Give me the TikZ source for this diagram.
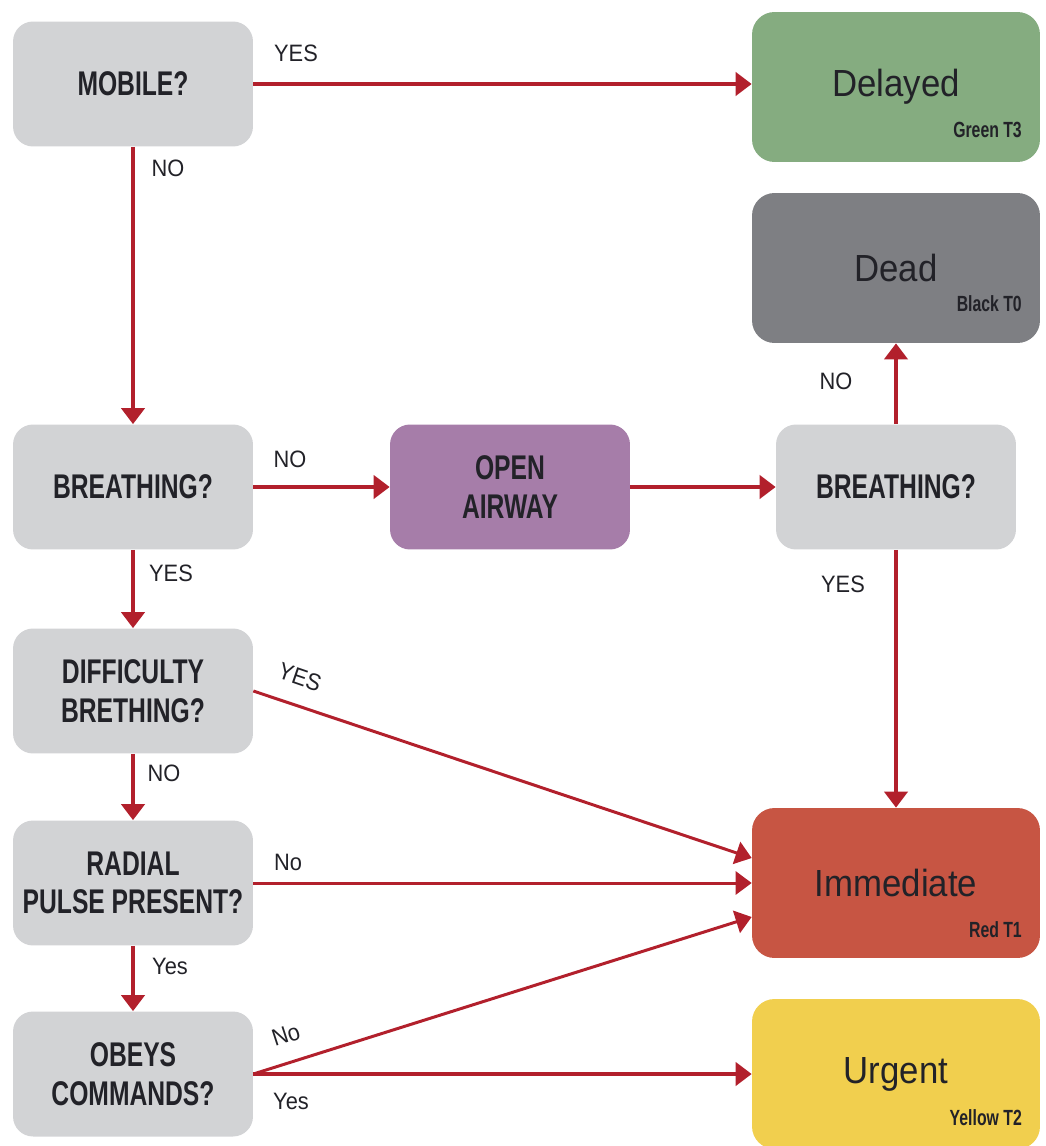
\documentclass[tikz,border=0pt]{standalone}
\usepackage{fontspec}
\setmainfont[FakeStretch=0.92]{Liberation Sans}
\newfontfamily\qfont[FakeStretch=0.72]{Liberation Sans}
\usetikzlibrary{arrows.meta}

\definecolor{ink}{HTML}{222228}
\definecolor{qgray}{HTML}{D2D3D5}
\definecolor{arrred}{HTML}{B2202C}
\definecolor{tgreen}{HTML}{85AC80}
\definecolor{tblack}{HTML}{7E7F83}
\definecolor{tred}{HTML}{C75543}
\definecolor{tyellow}{HTML}{F1CF4E}
\definecolor{tpurple}{HTML}{A67DA9}

\tikzset{
  qbox/.style={fill=qgray,rounded corners=0.4cm,minimum width=4.8cm,minimum height=2.5cm,
    align=center,text=ink,font=\qfont\bfseries\fontsize{19.5}{22}\selectfont},
  tbox/.style={rounded corners=0.45cm,minimum width=5.76cm,minimum height=3cm,
    text=ink,font=\fontsize{21.5}{25}\selectfont},
  ttag/.style={anchor=base east,text=ink,font=\qfont\bfseries\fontsize{12.5}{14}\selectfont},
  lbl/.style={text=ink,font=\fontsize{13.5}{16}\selectfont},
  arr/.style={draw=arrred,line width=2.3pt,-{Triangle[length=0.32cm,width=0.46cm]}},
  slant/.style={arr,line width=1.7pt}
}

\begin{document}
\begin{tikzpicture}[x=0.02cm,y=-0.02cm]

	\useasboundingbox (0,0) rectangle (1045,1146);

	% question column
	\node[qbox] (mobile) at (133,84) {MOBILE?};
	\node[qbox] (breathL) at (133,487) {BREATHING?};
	\node[qbox] (diff) at (133,691) {DIFFICULTY\\BRETHING?};
	\node[qbox] (radial) at (133,883) {RADIAL\\PULSE PRESENT?};
	\node[qbox] (obeys) at (133,1074) {OBEYS\\COMMANDS?};

	\node[qbox,fill=tpurple] (airway) at (510,487) {OPEN\\AIRWAY};
	\node[qbox] (breathR) at (896,487) {BREATHING?};

	% outcome boxes
	\node[tbox,fill=tgreen] (delayed) at (896,87) {Delayed};
	\node[tbox,fill=tblack] (dead) at (896,268) {Dead};
	\node[tbox,fill=tred] (immediate) at (896,883) {Immediate};
	\node[tbox,fill=tyellow] (urgent) at (896,1074) {Urgent};

	\node[ttag] (delayedTag) at (1028,137) {Green T3};
	\node[ttag] (deadTag) at (1028,311) {Black T0};
	\node[ttag] (immediateTag) at (1028,937) {Red T1};
	\node[ttag] (urgentTag) at (1028,1125) {Yellow T2};

	% connectors
	\draw[arr] (mobile.east) -- (mobile.east -| delayed.west);
	\draw[arr] (mobile) -- (breathL);
	\draw[arr] (breathL) -- (airway);
	\draw[arr] (airway) -- (breathR);
	\draw[arr] (breathR) -- (dead);
	\draw[arr] (breathR) -- (immediate);
	\draw[arr] (breathL) -- (diff);
	\draw[arr] (diff) -- (radial);
	\draw[arr] (radial) -- (obeys);
	\draw[slant] (diff.east) -- ([yshift=0.5cm]immediate.west);
	\draw[slant] (radial.east) -- (radial.east -| immediate.west);
	\draw[slant] (obeys.east) -- ([yshift=-0.68cm]immediate.west);
	\draw[arr] (obeys.east) -- (obeys.east -| urgent.west);

	% answers
	\node[lbl] (mobileYes) at (296,53) {YES};
	\node[lbl] (mobileNo) at (168,168) {NO};
	\node[lbl] (breathLNo) at (290,459) {NO};
	\node[lbl] (breathLYes) at (171,573) {YES};
	\node[lbl] (breathRNo) at (836,381) {NO};
	\node[lbl] (breathRYes) at (843,584) {YES};
	\node[lbl,rotate=-19] (diffYes) at (300,677) {YES};
	\node[lbl] (diffNo) at (164,773) {NO};
	\node[lbl] (radialNo) at (288,862) {No};
	\node[lbl] (radialYes) at (170,966) {Yes};
	\node[lbl,rotate=18] (obeysNo) at (286,1035) {No};
	\node[lbl] (obeysYes) at (291,1101) {Yes};

\end{tikzpicture}
\end{document}
